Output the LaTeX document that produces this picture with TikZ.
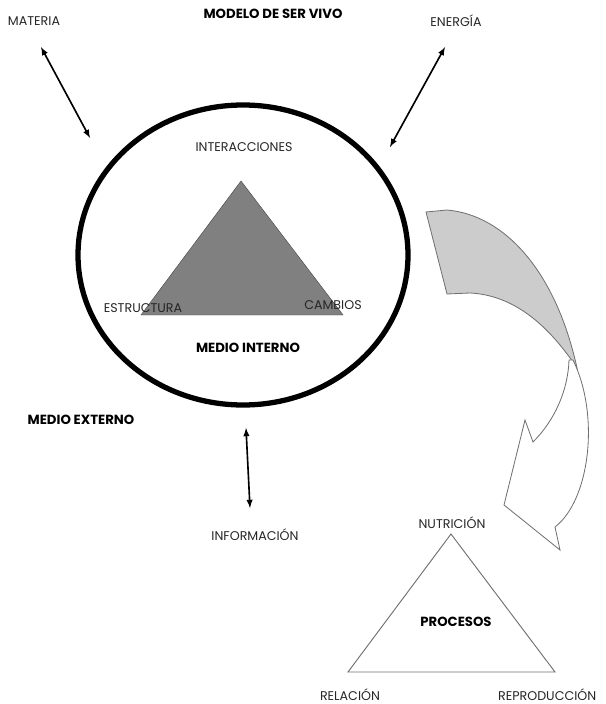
\documentclass[tikz,border=0pt]{standalone}
\usepackage{fontspec}
\setmainfont{Poppins}
\definecolor{gristxt}{HTML}{262626}
\definecolor{grisfondo}{HTML}{808080}
\definecolor{grisclaro}{HTML}{CCCCCC}
\definecolor{grisborde}{HTML}{707070}
\begin{document}
\begin{tikzpicture}[x=0.03cm, y=-0.03cm,
		etiq/.style={text=gristxt, font=\fontsize{10.8}{12}\selectfont},
		titulo/.style={text=black, font=\bfseries\fontsize{11.3}{13}\selectfont},
		flecha/.style={<->, >=latex, line width=1.4pt}]
		\useasboundingbox (0,0) rectangle (605,704);
		% textos de arriba
		\node[titulo] (modelo) at (273,14) {MODELO DE SER VIVO};
		\node[etiq] (materia) at (34,21) {MATERIA};
		\node[etiq] (energia) at (456,21) {ENERGÍA};
		% el ser vivo
		\draw[line width=4.5pt] (243,255) ellipse (165 and 150);
		\coordinate (inter) at (241,181);
		\coordinate (estr) at (141,315);
		\coordinate (camb) at (343,315);
		\draw[fill=grisfondo, draw=black!70] (inter) -- (estr) -- (camb) -- cycle;
		\node[etiq] (interacciones) at (244,147) {INTERACCIONES};
		\node[etiq] (estructura) at (143,308) {ESTRUCTURA};
		\node[etiq] (cambios) at (333,305) {CAMBIOS};
		\node[titulo] (interno) at (248,348) {MEDIO INTERNO};
		\node[titulo] (externo) at (81,420) {MEDIO EXTERNO};
		% intercambios con el medio
		\coordinate (mat1) at (41,47);
		\coordinate (mat2) at (90,138);
		\coordinate (ener1) at (445,47);
		\coordinate (ener2) at (390,147);
		\coordinate (inf1) at (246,428);
		\coordinate (inf2) at (250,508);
		\draw[flecha] (mat1) -- (mat2);
		\draw[flecha] (ener1) -- (ener2);
		\draw[flecha] (inf1) -- (inf2);
		\node[etiq] (informacion) at (255,535) {INFORMACIÓN};
		% flecha curva
		\draw[fill=grisclaro, draw=grisborde, line width=0.7pt] (426,212) -- (447,210)
			.. controls (505,215) and (556,272) .. (577,368)
			.. controls (545,320) and (510,295) .. (470,293) -- (447,294) -- cycle;
		\draw[fill=white, draw=grisborde, line width=0.7pt] (569,360)
			.. controls (568,390) and (555,420) .. (533,442)
			-- (525,420) -- (504,505) -- (560,550) -- (555,527)
			.. controls (590,500) and (600,415) .. (573,360) -- cycle;
		% procesos
		\coordinate (nutri) at (451,534);
		\coordinate (rela) at (348,672);
		\coordinate (repro) at (555,672);
		\draw[draw=grisborde, line width=0.8pt] (nutri) -- (rela) -- (repro) -- cycle;
		\node[etiq] (nutricion) at (452,523) {NUTRICIÓN};
		\node[titulo] (procesos) at (456,622) {PROCESOS};
		\node[etiq] (relacion) at (350,695) {RELACIÓN};
		\node[etiq, anchor=west] (reproduccion) at (494,695) {REPRODUCCIÓN};
	\end{tikzpicture}
\end{document}
